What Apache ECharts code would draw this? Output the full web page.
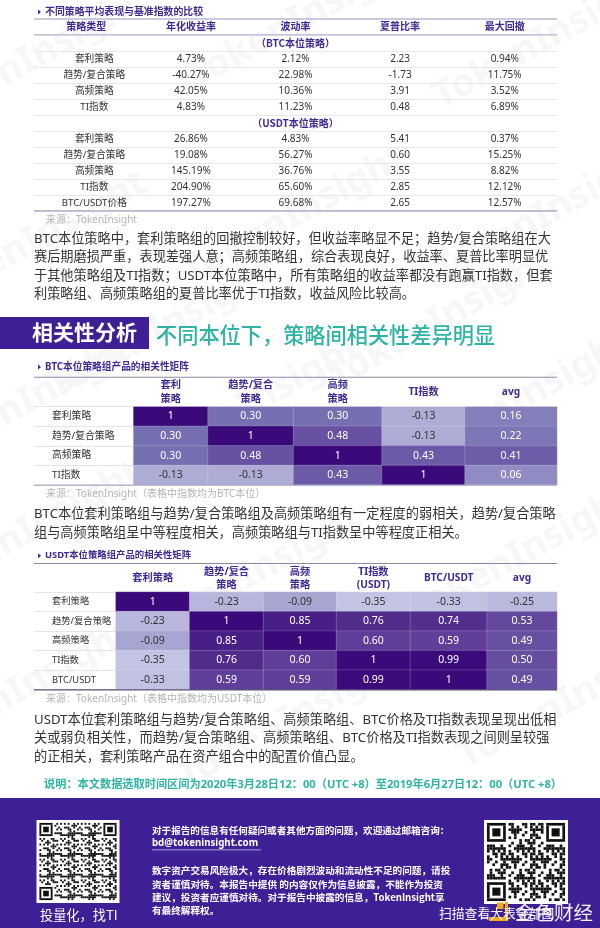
<!DOCTYPE html>
<html>
<head>
<meta charset="utf-8">
<style>html,body{margin:0;padding:0;background:#fff}#main{width:600px;height:928px}</style>
<script src="https://cdn.jsdelivr.net/npm/echarts@6/dist/echarts.min.js"></script>
</head>
<body>
<div id="main"></div>
<script>
var FONT = '"Noto Sans","Noto Sans CJK SC",sans-serif';
var CJK = '"Noto Sans CJK SC",sans-serif';
var PURPLE = '#3e2a92';

// 策略表现表
var perfHeader = ['策略类型', '年化收益率', '波动率', '夏普比率', '最大回撤'];
var perfBtcLabel = '（BTC本位策略）';
var perfUsdtLabel = '（USDT本位策略）';
var perfBtc = [
  ['套利策略', '4.73%', '2.12%', '2.23', '0.94%'],
  ['趋势/复合策略', '-40.27%', '22.98%', '-1.73', '11.75%'],
  ['高频策略', '42.05%', '10.36%', '3.91', '3.52%'],
  ['TI指数', '4.83%', '11.23%', '0.48', '6.89%']
];
var perfUsdt = [
  ['套利策略', '26.86%', '4.83%', '5.41', '0.37%'],
  ['趋势/复合策略', '19.08%', '56.27%', '0.60', '15.25%'],
  ['高频策略', '145.19%', '36.76%', '3.55', '8.82%'],
  ['TI指数', '204.90%', '65.60%', '2.85', '12.12%'],
  ['BTC/USDT价格', '197.27%', '69.68%', '2.65', '12.57%']
];

// BTC本位相关性矩阵
var btcCols = ['套利\n策略', '趋势/复合\n策略', '高频\n策略', 'TI指数', 'avg'];
var btcRows = ['套利策略', '趋势/复合策略', '高频策略', 'TI指数'];
var btcCorr = [
  ['1', '0.30', '0.30', '-0.13', '0.16'],
  ['0.30', '1', '0.48', '-0.13', '0.22'],
  ['0.30', '0.48', '1', '0.43', '0.41'],
  ['-0.13', '-0.13', '0.43', '1', '0.06']
];

// USDT本位相关性矩阵
var usdtCols = ['套利策略', '趋势/复合\n策略', '高频\n策略', 'TI指数\n(USDT)', 'BTC/USDT', 'avg'];
var usdtRows = ['套利策略', '趋势/复合策略', '高频策略', 'TI指数', 'BTC/USDT'];
var usdtCorr = [
  ['1', '-0.23', '-0.09', '-0.35', '-0.33', '-0.25'],
  ['-0.23', '1', '0.85', '0.76', '0.74', '0.53'],
  ['-0.09', '0.85', '1', '0.60', '0.59', '0.49'],
  ['-0.35', '0.76', '0.60', '1', '0.99', '0.50'],
  ['-0.33', '0.59', '0.59', '0.99', '1', '0.49']
];

var grids = [], xAxes = [], yAxes = [], series = [], matrixSeries = [];

function addGrid(left, right, top, bottom, xData, yData, headGap) {
  grids.push({left: left, width: right - left, top: top, height: bottom - top});
  var i = grids.length - 1;
  xAxes.push({
    type: 'category', gridIndex: i, position: 'top', data: xData,
    axisLine: {show: false}, axisTick: {show: false}, splitLine: {show: false},
    axisLabel: {interval: 0, fontFamily: FONT, fontSize: 10.2, fontWeight: 'bold', color: PURPLE, lineHeight: 13.5, margin: headGap, verticalAlign: 'middle'}
  });
  yAxes.push({
    type: 'category', gridIndex: i, inverse: true, data: yData,
    axisLine: {show: false}, axisTick: {show: false},
    splitLine: {show: false}, axisLabel: {show: false}
  });
  return i;
}

// 表现表：5列11行，分组标题占一行
(function () {
  var rowIds = [], cells = [];
  function cell(col, row, text, extra) {
    cells.push({name: text, value: [col, row, parseFloat(text) || 0], label: extra || {}});
  }
  var r = 0;
  function block(title, rows) {
    rowIds.push(String(r));
    cell(2, r, title, {color: PURPLE, fontWeight: 'bold', fontFamily: CJK});
    r++;
    rows.forEach(function (line) {
      rowIds.push(String(r));
      line.forEach(function (t, c) {
        cell(c, r, t, c === 0 ? {offset: [8, 0], fontSize: 9.7} : {});
      });
      r++;
    });
  }
  block(perfBtcLabel, perfBtc);
  block(perfUsdtLabel, perfUsdt);
  var g = addGrid(34, 557, 35, 211, perfHeader, rowIds, 8);
  xAxes[g].axisLabel.fontSize = 10;
  yAxes[g].splitLine = {show: true, interval: 0, lineStyle: {color: '#e7e7ee', width: 1}};
  series.push({
    type: 'heatmap', xAxisIndex: g, yAxisIndex: g, data: cells, silent: true,
    itemStyle: {color: 'rgba(0,0,0,0)'},
    label: {show: true, formatter: '{b}', fontFamily: FONT, fontSize: 10, color: '#333'}
  });
})();

function addMatrix(top, bottom, edges, cols, rows, values, headGap, rowFont) {
  var g0 = addGrid(34, edges[0], top, bottom, [''], rows, headGap);
  yAxes[g0].splitLine = {show: true, interval: 0, lineStyle: {color: '#e4e4ec', width: 1}};
  yAxes[g0].axisLabel = {show: true, inside: true, interval: 0, margin: 18, align: 'left', fontFamily: FONT, fontSize: rowFont, color: '#333'};
  cols.forEach(function (name, c) {
    var g = addGrid(edges[c], edges[c + 1], top, bottom, [name], rows, headGap);
    var cells = values.map(function (line, r) {
      var v = parseFloat(line[c]);
      return {name: line[c], value: [0, r, v], label: {color: v < 0 ? '#333' : '#fff'}};
    });
    matrixSeries.push(series.length);
    series.push({
      type: 'heatmap', xAxisIndex: g, yAxisIndex: g, data: cells, silent: true,
      itemStyle: {borderColor: 'rgba(255,255,255,0.35)', borderWidth: 0.5},
      label: {show: true, formatter: '{b}', fontFamily: FONT, fontSize: 10.5}
    });
  });
}

addMatrix(406.7, 485, [133.5, 208, 293.5, 382, 465, 557], btcCols, btcRows, btcCorr, 14.7, 9.8);
addMatrix(592, 689.7, [115.8, 189.6, 263.5, 336.5, 410.4, 487, 557], usdtCols, usdtRows, usdtCorr, 13.5, 9.3);

// ---------- 页面文字与装饰 ----------
var els = [];
function txt(x, y, s, size, color, extra) {
  var st = {x: x, y: y, text: s, fontFamily: FONT, fontSize: size, fill: color, verticalAlign: 'middle', align: 'left'};
  for (var k in (extra || {})) st[k] = extra[k];
  els.push({type: 'text', z: 100, style: st, silent: true});
}
function rect(x, y, w, h, color, z) {
  els.push({type: 'rect', z: z === undefined ? 50 : z, shape: {x: x, y: y, width: w, height: h}, style: {fill: color}, silent: true});
}

// 背景水印
var marks = [[30, 60], [300, 20], [545, 40], [35, 240], [295, 215], [545, 215], [160, 330], [440, 320], [30, 400], [250, 405], [520, 400], [30, 530], [250, 575], [520, 555], [20, 690], [290, 720], [570, 700]];
marks.forEach(function (m) {
  els.push({
    type: 'text', z: -10, x: m[0], y: m[1], rotation: 0.5, silent: true,
    style: {text: 'TokenInsight', align: 'center', verticalAlign: 'middle', fontFamily: FONT, fontWeight: 'bold', fontSize: 38, fill: '#f7f7f9'}
  });
});

// 表一标题与分隔线
function tableTitle(y, s, size) {
  els.push({type: 'polygon', z: 100, shape: {points: [[38, y - 2.5], [41, y], [38, y + 2.5]]}, style: {fill: '#3e2a92'}, silent: true});
  txt(45, y, s, size, PURPLE, {fontWeight: 'bold'});
}
tableTitle(12, '不同策略平均表现与基准指数的比较', 9.9);
rect(34, 18.2, 523, 1.6, '#b9b9d2');
rect(34, 34, 523, 1.6, '#c3c3da');
rect(34, 210, 523, 1.8, '#b9b9d2');
txt(46, 220.5, '来源：TokenInsight', 10, '#b4b4b4');

var para1 = [
  'BTC本位策略中，套利策略组的回撤控制较好，但收益率略显不足；趋势/复合策略组在大',
  '赛后期磨损严重，表现差强人意；高频策略组，综合表现良好，收益率、夏普比率明显优',
  '于其他策略组及TI指数；USDT本位策略中，所有策略组的收益率都没有跑赢TI指数，但套',
  '利策略组、高频策略组的夏普比率优于TI指数，收益风险比较高。'
];
para1.forEach(function (s, i) { txt(34, 239 + i * 18.4, s, 13.2, '#333'); });

rect(0, 317, 149, 32, '#3f1f96');
txt(32, 334, '相关性分析', 21, '#fff', {fontWeight: 'bold'});
txt(156, 335, '不同本位下，策略间相关性差异明显', 21.2, '#2fb3a5', {fontWeight: 500, fontFamily: CJK});

tableTitle(367, 'BTC本位策略组产品的相关性矩阵', 9.7);
rect(34, 376.8, 523, 1, '#8a8aa8');
rect(34, 484.5, 523, 1.2, '#aaaac8');
txt(46, 494.5, '来源：TokenInsight（表格中指数均为BTC本位）', 10, '#b4b4b4');
txt(34, 514.5, 'BTC本位套利策略组与趋势/复合策略组及高频策略组有一定程度的弱相关，趋势/复合策略', 13.2, '#333');
txt(34, 533.5, '组与高频策略组呈中等程度相关，高频策略组与TI指数呈中等程度正相关。', 13.2, '#333');

tableTitle(555.7, 'USDT本位策略组产品的相关性矩阵', 9.4);
rect(34, 563, 523, 1, '#8a8aa8');
rect(34, 689.3, 523, 1.2, '#555570');
txt(46, 698.7, '来源：TokenInsight（表格中指数均为USDT本位）', 10, '#b4b4b4');
['USDT本位套利策略组与趋势/复合策略组、高频策略组、BTC价格及TI指数表现呈现出低相',
 '关或弱负相关性，而趋势/复合策略组、高频策略组、BTC价格及TI指数表现之间则呈较强',
 '的正相关，套利策略产品在资产组合中的配置价值凸显。'].forEach(function (s, i) {
  txt(34, 720 + i * 18.6, s, 13.2, '#333');
});
txt(44, 785, '说明：本文数据选取时间区间为2020年3月28日12：00（UTC +8）至2019年6月27日12：00（UTC +8）', 11.2, '#2fb3a5', {fontWeight: 'bold'});

// 页脚
rect(0, 798, 600, 130, '#3f1f96', 40);
function fakeQr(x, y, size, n, salt) {
  rect(x, y, size, size, '#fff', 60);
  var pad = size * 0.035, m = (size - pad * 2) / n;
  function box(cx, cy, w, h) {
    rect(x + pad + cx * m, y + pad + cy * m, w * m, h * m, '#111', 61);
  }
  function finder(cx, cy) {
    box(cx, cy, 7, 1); box(cx, cy + 6, 7, 1); box(cx, cy + 1, 1, 5); box(cx + 6, cy + 1, 1, 5); box(cx + 2, cy + 2, 3, 3);
  }
  for (var i = 0; i < n; i++) for (var j = 0; j < n; j++) {
    if ((i < 8 && j < 8) || (i < 8 && j >= n - 8) || (i >= n - 8 && j < 8)) continue;
    if (((i * i * 7 + j * j * 13 + i * j * 5 + salt) % 11) < 5) box(j, i, 1, 1);
  }
  finder(0, 0); finder(n - 7, 0); finder(0, n - 7);
}
fakeQr(36.5, 820, 83, 41, 3);
fakeQr(484, 820, 84, 29, 6);
txt(40, 915, '投量化，找TI', 13.2, '#fff', {fontFamily: CJK});
var WB = {fontWeight: 'bold', fontFamily: CJK};
txt(152, 830.5, '对于报告的信息有任何疑问或者其他方面的问题，欢迎通过邮箱咨询：', 9.6, '#fff', WB);
txt(152, 843.5, 'bd@tokeninsight.com', 9.7, '#fff', {fontWeight: 'bold'});
rect(152, 849.5, 109, 0.8, '#cfc8f0', 70);
['数字资产交易风险极大，存在价格剧烈波动和流动性不足的问题，请投',
 '资者谨慎对待。本报告中提供 的内容仅作为信息披露，不能作为投资',
 '建议，投资者应谨慎对待。对于报告中披露的信息，TokenInsight享',
 '有最终解释权。'].forEach(function (s, i) { txt(152, 870.7 + i * 13.2, s, 9.65, '#fff', WB); });
txt(439, 914, '扫描查看大表全部图', 12.8, '#fff');
rect(497, 902.5, 6.5, 6.5, '#f0a81e', 80);
rect(505, 902, 3, 19, '#f0a81e', 80);
rect(489, 917, 19, 4, '#f0a81e', 80);
txt(515, 913, '金色财经', 19.5, '#f2f0f8', {fontFamily: CJK});

var chart = echarts.init(document.getElementById('main'));
chart.setOption({
  animation: false,
  backgroundColor: '#fff',
  grid: grids,
  xAxis: xAxes,
  yAxis: yAxes,
  series: series,
  visualMap: {
    show: false, type: 'continuous', seriesIndex: matrixSeries, dimension: 2, min: -0.35, max: 1,
    inRange: {color: ['#c3c3e3', '#aeabd5', '#8a84bf', '#746cb0', '#62449c', '#4f2a8a', '#3a0a7a']}
  },
  graphic: {elements: els}
});
</script>
</body>
</html>
